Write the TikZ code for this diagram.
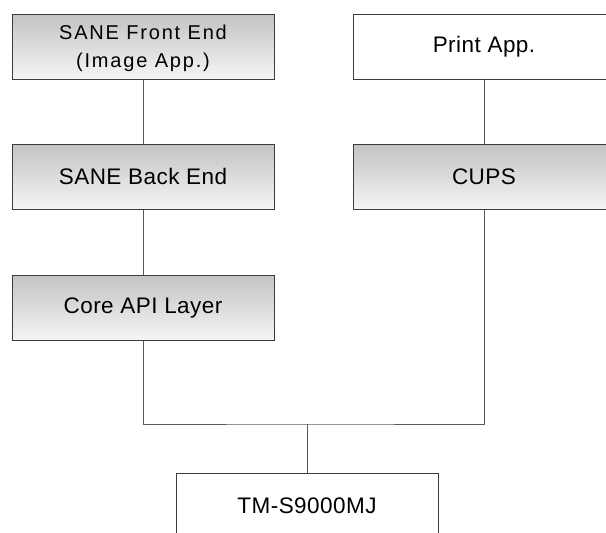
\documentclass[tikz,border=0pt]{standalone}
\usepackage{fontspec}
\newfontfamily\labfont[LetterSpace=2]{Liberation Sans}
\newfontfamily\labfonttwo[LetterSpace=9]{Liberation Sans}
\definecolor{boxtop}{RGB}{194,195,197}
\definecolor{boxbot}{RGB}{245,245,245}
\definecolor{boxline}{RGB}{60,60,60}
\definecolor{wireline}{RGB}{90,90,90}
\tikzset{
  layerbox/.style={draw=boxline, line width=1pt, minimum width=262pt, minimum height=65pt,
    inner sep=0pt, font=\labfont\fontsize{22.5}{27}\selectfont, align=center},
  shadedbox/.style={layerbox, top color=boxtop, bottom color=boxbot},
  plainbox/.style={layerbox, fill=white},
  twolines/.style={font=\labfonttwo\fontsize{20}{28}\selectfont, align=center, inner sep=0pt},
  wire/.style={draw=wireline, line width=0.9pt}
}
\begin{document}
\begin{tikzpicture}[x=1pt,y=-1pt]
\useasboundingbox (0,0) rectangle (606,533);
\clip (0,0) rectangle (606,533);
\fill[white] (0,0) rectangle (606,533);
\node[shadedbox] (fe) at (143,46.5) {};
\node[twolines] (fetext) at ([yshift=-2pt]fe.center) {SANE Front End\\(Image App.)};
\node[plainbox] (pa) at (484,46.5) {Print App.};
\node[shadedbox] (be) at (143,176.5) {SANE Back End};
\node[shadedbox] (cups) at (484,177) {CUPS};
\node[shadedbox] (core) at (143,307.5) {Core API Layer};
\node[plainbox] (tm) at (307,505.5) {TM-S9000MJ};
\coordinate (j) at (307,424);
\draw[wire] (fe.south) -- (be.north);
\draw[wire] (be.south) -- (core.north);
\draw[wire] (pa.south) -- (cups.north);
\draw[wire] (core.south) |- (j) -| (cups.south);
\draw[wire] (j) -- (tm.north);
\end{tikzpicture}
\end{document}
